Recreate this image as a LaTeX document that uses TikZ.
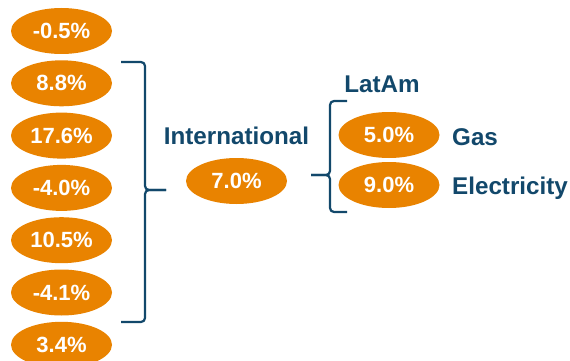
\documentclass[tikz,border=0pt]{standalone}
\usepackage{fontspec}
\setmainfont{Liberation Sans}
\usetikzlibrary{shapes.geometric,positioning}
\definecolor{rate}{RGB}{233,131,0}
\definecolor{navy}{RGB}{18,72,107}
\begin{document}
\begin{tikzpicture}[x=1pt,y=-1pt,node distance=12pt,
		pct/.style={ellipse,fill=rate,text=white,font=\bfseries\fontsize{22}{22}\selectfont,minimum width=101pt,minimum height=46pt,inner sep=0pt},
		lbl/.style={text=navy,font=\bfseries\fontsize{24.2}{24}\selectfont,inner sep=0pt},
		brace/.style={draw=navy,line width=2.2pt,rounded corners=4pt}]
				\useasboundingbox (0,0) rectangle (570,361);
				\node [pct] (p0) at (61.5,31) {-0.5\%};
				\node [pct] (p1) at (61.5,83.3) {8.8\%};
				\node [pct] (p2) at (61.5,135.6) {17.6\%};
				\node [pct] (p3) at (61.5,187.9) {-4.0\%};
				\node [pct] (p4) at (61.5,240.2) {10.5\%};
				\node [pct] (p5) at (61.5,292.5) {-4.1\%};
				\node [pct] (p6) at (61.5,344.8) {3.4\%};
				\node [pct] (intl) at (236.5,181) {7.0\%};
				\node [lbl,above=13pt of intl] (intltext) {International};
				\node [pct] (gas) at (389,135) {5.0\%};
				\node [pct] (elec) at (389,185) {9.0\%};
				\node [lbl,anchor=west] (gastext) at (452,137) {Gas};
				\node [lbl,anchor=west] (electext) at (452,188) {Electricity};
				\node [lbl] (latam) at (382,84) {LatAm};
				\coordinate (lb) at (166,190);
				\coordinate (rb) at (311,175);
				\draw [brace] (121,62) -- (145,62) -- (145,190) -- (lb);
				\draw [brace] (121,322) -- (145,322) -- (145,190) -- (lb);
				\draw [brace] (347,101) -- (330,101) -- (330,175) -- (rb);
				\draw [brace] (347,212) -- (330,212) -- (330,175) -- (rb);
			\end{tikzpicture}
\end{document}
